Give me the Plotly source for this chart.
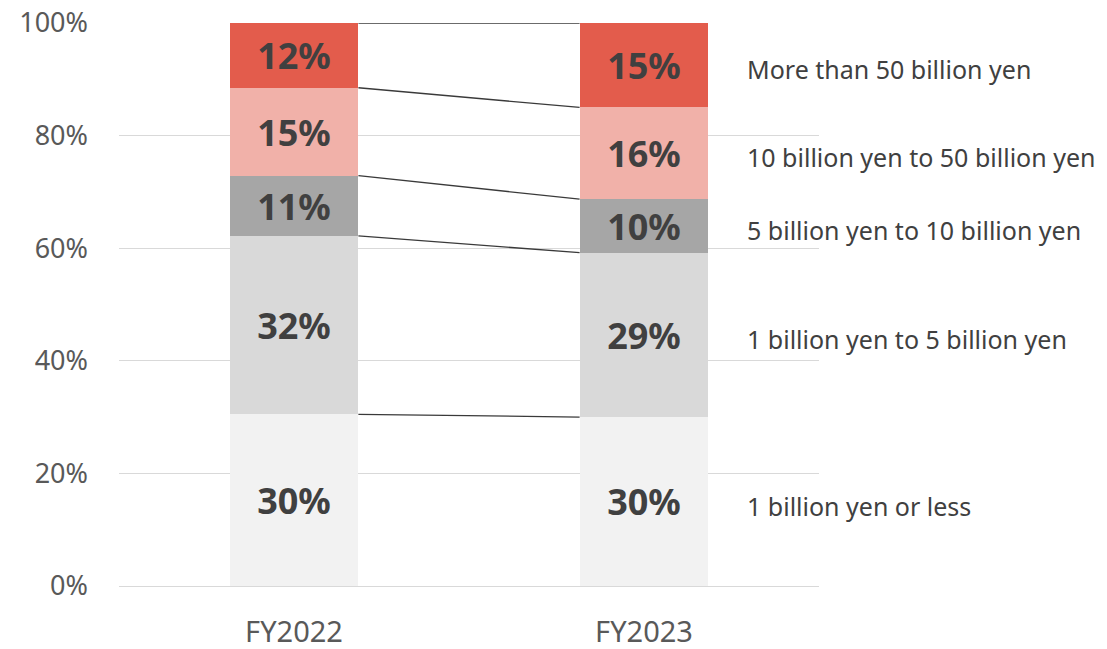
import plotly.graph_objects as go

categories = ["FY2022", "FY2023"]
series_names = [
    "1 billion yen or less",
    "1 billion yen to 5 billion yen",
    "5 billion yen to 10 billion yen",
    "10 billion yen to 50 billion yen",
    "More than 50 billion yen",
]
series_values = [
    [30.5, 30.0],
    [31.7, 29.2],
    [10.7, 9.5],
    [15.6, 16.3],
    [11.5, 15.0],
]
series_labels = [
    ["30%", "30%"],
    ["32%", "29%"],
    ["11%", "10%"],
    ["15%", "16%"],
    ["12%", "15%"],
]
colors = ["#F2F2F2", "#D9D9D9", "#A6A6A6", "#F1B1A9", "#E35C4C"]
y_ticks = [0, 20, 40, 60, 80, 100]
y_tick_text = ["0%", "20%", "40%", "60%", "80%", "100%"]

BAR_W = 0.368
FONT = "Noto Sans"

fig = go.Figure()
for name, vals, labs, col in zip(series_names, series_values, series_labels, colors):
    fig.add_trace(go.Bar(
        x=categories, y=vals, name=name, width=BAR_W,
        marker=dict(color=col, line=dict(width=0)),
        text=[f"<b>{t}</b>" for t in labs],
        textposition="inside", insidetextanchor="middle",
        textangle=0, constraintext="none",
        textfont=dict(family=FONT, size=36, color="#404040"),
        hoverinfo="skip",
    ))

# connector lines between the two bars at cumulative boundaries
cum = [[0.0, 0.0]]
for vals in series_values:
    cum.append([cum[-1][0] + vals[0], cum[-1][1] + vals[1]])
for c in cum[1:]:
    fig.add_shape(type="line", xref="x", yref="y",
                  x0=BAR_W / 2, x1=1 - BAR_W / 2, y0=c[0], y1=c[1],
                  line=dict(color="#3a3a3a", width=1.3))

# right-side labels at the middle of FY2023 segments
for i, name in enumerate(series_names):
    mid = (cum[i][1] + cum[i + 1][1]) / 2
    fig.add_annotation(x=1.288, y=mid, xref="x", yref="y", text=name,
                       showarrow=False, xanchor="left", yanchor="middle",
                       yshift=-4,
                       font=dict(family=FONT, size=25, color="#404040"))

fig.update_layout(
    barmode="stack", width=1107, height=649,
    margin=dict(l=119, r=288, t=23, b=63),
    plot_bgcolor="white", paper_bgcolor="white",
    showlegend=False, bargap=0,
)
fig.update_xaxes(range=[-0.5, 1.5], showgrid=False, showline=False, zeroline=False,
                 ticks="", ticklabelstandoff=26, automargin=False,
                 tickfont=dict(family=FONT, size=29, color="#595959"))
fig.update_yaxes(range=[0, 100], tickvals=y_ticks, ticktext=y_tick_text,
                 showgrid=True, gridcolor="#D9D9D9", gridwidth=1.3,
                 zeroline=True, zerolinecolor="#D9D9D9", zerolinewidth=1.3,
                 showline=False, ticks="", ticklabelstandoff=30, automargin=False,
                 tickfont=dict(family=FONT, size=27, color="#595959"))

fig.write_html("out.html")
